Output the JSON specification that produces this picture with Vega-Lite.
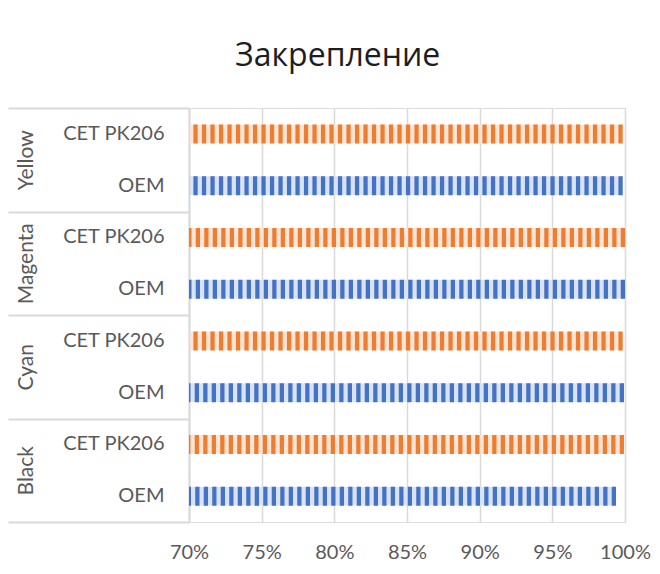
{
  "$schema": "https://vega.github.io/schema/vega-lite/v6.json",
  "width": 436,
  "height": 414,
  "padding": {"left": 7, "top": 40, "right": 8, "bottom": 4},
  "background": "white",
  "title": {
    "text": "Закрепление",
    "font": "Open Sans",
    "fontSize": 32,
    "fontWeight": "normal",
    "color": "#1e1e1e",
    "anchor": "middle",
    "frame": "bounds",
    "dx": 9,
    "offset": 34
  },
  "data": {
    "values": [
      {"group": "Yellow", "series": "CET PK206", "row": "Yellow|CET PK206", "value": 0.9984},
      {"group": "Yellow", "series": "OEM", "row": "Yellow|OEM", "value": 0.9984},
      {"group": "Magenta", "series": "CET PK206", "row": "Magenta|CET PK206", "value": 1.0},
      {"group": "Magenta", "series": "OEM", "row": "Magenta|OEM", "value": 1.0},
      {"group": "Cyan", "series": "CET PK206", "row": "Cyan|CET PK206", "value": 0.9984},
      {"group": "Cyan", "series": "OEM", "row": "Cyan|OEM", "value": 0.9993},
      {"group": "Black", "series": "CET PK206", "row": "Black|CET PK206", "value": 0.9993},
      {"group": "Black", "series": "OEM", "row": "Black|OEM", "value": 0.9938}
    ]
  },
  "layer": [
    {
      "layer": [
        {
          "mark": {"type": "bar"},
          "encoding": {
            "y": {
              "field": "row",
              "type": "nominal",
              "sort": ["Yellow|CET PK206", "Yellow|OEM", "Magenta|CET PK206", "Magenta|OEM", "Cyan|CET PK206", "Cyan|OEM", "Black|CET PK206", "Black|OEM"],
              "scale": {"paddingInner": 0.633, "paddingOuter": 0.3165},
              "axis": {
                "orient": "left",
                "title": null,
                "labelExpr": "split(datum.value, '|')[1]",
                "ticks": false,
                "domain": true,
                "domainColor": "#d9d9d9",
                "domainWidth": 2,
                "labelPadding": 25,
                "labelFont": "Lato",
                "labelFontSize": 20,
                "labelColor": "#595959",
                "grid": false
              }
            },
            "x": {
              "field": "value",
              "type": "quantitative",
              "scale": {"domain": [0.7, 1.0], "nice": false, "zero": false},
              "axis": {
                "title": null,
                "values": [0.7, 0.75, 0.8, 0.85, 0.9, 0.95, 1.0],
                "format": ".0%",
                "grid": true,
                "gridColor": "#d9d9d9",
                "gridWidth": 1.5,
                "domain": false,
                "ticks": false,
                "labelFont": "Lato",
                "labelFontSize": 20,
                "labelColor": "#595959",
                "labelPadding": 20,
                "labelFlush": false,
                "labelOverlap": false
              }
            },
            "x2": {"datum": 0.7},
            "fill": {
              "field": "series",
              "type": "nominal",
              "scale": {"domain": ["CET PK206", "OEM"], "range": ["#fbe5d6", "#dae3f3"]},
              "legend": null
            }
          }
        },
        {
          "mark": {"type": "rule", "strokeWidth": 19, "strokeDash": [4.25, 4.25], "strokeCap": "butt"},
          "encoding": {
            "y": {
              "field": "row",
              "type": "nominal",
              "sort": ["Yellow|CET PK206", "Yellow|OEM", "Magenta|CET PK206", "Magenta|OEM", "Cyan|CET PK206", "Cyan|OEM", "Black|CET PK206", "Black|OEM"]
            },
            "x": {"field": "value", "type": "quantitative"},
            "x2": {"datum": 0.7},
            "stroke": {
              "field": "series",
              "type": "nominal",
              "scale": {"domain": ["CET PK206", "OEM"], "range": ["#ed7d31", "#4472c4"]},
              "legend": null
            }
          }
        }
      ]
    },
    {
      "mark": {"type": "point", "opacity": 0},
      "encoding": {
        "y": {
          "field": "group",
          "type": "nominal",
          "sort": ["Yellow", "Magenta", "Cyan", "Black"],
          "scale": {"type": "band", "paddingInner": 0, "paddingOuter": 0},
          "axis": {
            "orient": "left",
            "title": null,
            "domain": false,
            "grid": false,
            "ticks": true,
            "tickBand": "extent",
            "tickSize": 181,
            "tickColor": "#d9d9d9",
            "tickWidth": 2,
            "labelAngle": 270,
            "labelAlign": "center",
            "labelBaseline": "middle",
            "labelPadding": -18,
            "labelFont": "Lato",
            "labelFontSize": 21,
            "labelColor": "#595959"
          }
        },
        "x": {"field": "value", "type": "quantitative"}
      }
    }
  ],
  "resolve": {"scale": {"y": "independent"}, "axis": {"y": "independent"}}
}
